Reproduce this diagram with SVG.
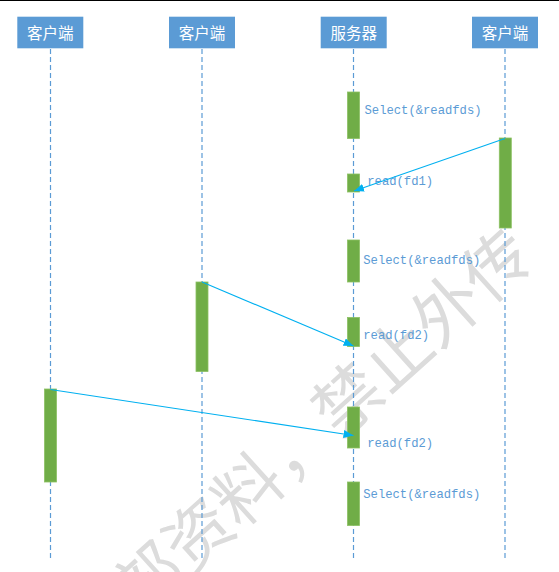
<svg xmlns="http://www.w3.org/2000/svg" width="559" height="572" viewBox="0 0 559 572">
<style>
.hdr{fill:#5b9bd5}
.hdrt{fill:#ffffff;font-family:"Noto Sans CJK SC","Noto Sans",sans-serif;font-size:15.5px;text-anchor:middle}
.life{stroke:#5b9bd5;stroke-width:1.2;stroke-dasharray:5 3;fill:none}
.bar{fill:#70ad47;stroke:#8cc063;stroke-width:0.8}
.lbl{fill:#5b9bd5;font-family:"Liberation Mono","DejaVu Sans Mono",monospace;font-size:12.2px}
.msg{stroke:#00b0f0;stroke-width:1.1;fill:none}
.wm{fill:#dcdcdc;font-family:"Noto Sans CJK SC",sans-serif;font-size:67px;text-anchor:middle}
</style>
<defs>
<marker id="ah" viewBox="0 0 10 8" refX="10" refY="4" markerWidth="10" markerHeight="8" markerUnits="userSpaceOnUse" orient="auto">
<path d="M0,0 L10,4 L0,8 Z" fill="#00b0f0"/>
</marker>
</defs>
<rect x="0" y="0" width="559" height="572" fill="#ffffff"/>
<line x1="0" y1="0.5" x2="559" y2="0.5" stroke="#000000" stroke-width="1"/>
<text class="wm" transform="translate(339,440) rotate(-42)">部资料，禁止外传</text>
<g id="client1">
<rect class="hdr" x="17.3" y="16.7" width="66" height="31.6"/>
<text class="hdrt" x="50.3" y="38.5">客户端</text>
<line class="life" x1="50.5" y1="49" x2="50.5" y2="558"/>
<rect class="bar" x="44.5" y="389" width="12" height="93"/>
</g>
<g id="client2">
<rect class="hdr" x="169" y="16.7" width="66" height="31.6"/>
<text class="hdrt" x="202" y="38.5">客户端</text>
<line class="life" x1="202" y1="49" x2="202" y2="558"/>
<rect class="bar" x="196" y="282" width="12" height="89.5"/>
</g>
<g id="server">
<rect class="hdr" x="320.7" y="16.7" width="66" height="31.6"/>
<text class="hdrt" x="353.7" y="38.5">服务器</text>
<line class="life" x1="353.5" y1="49" x2="353.5" y2="558"/>
<rect class="bar" x="347.5" y="92" width="12" height="46.5"/>
<rect class="bar" x="347.5" y="174" width="12" height="18"/>
<rect class="bar" x="347.5" y="240" width="12" height="42"/>
<rect class="bar" x="347.5" y="317.5" width="12" height="29"/>
<rect class="bar" x="347.5" y="407" width="12" height="41"/>
<rect class="bar" x="347.5" y="482" width="12" height="43.5"/>
<text class="lbl" x="364.5" y="114">Select(&amp;readfds)</text>
<text class="lbl" x="367.3" y="185">read(fd1)</text>
<text class="lbl" x="363.3" y="264">Select(&amp;readfds)</text>
<text class="lbl" x="363.3" y="339">read(fd2)</text>
<text class="lbl" x="367.3" y="446.5">read(fd2)</text>
<text class="lbl" x="363.3" y="498">Select(&amp;readfds)</text>
</g>
<g id="client4">
<rect class="hdr" x="472" y="16.7" width="66" height="31.6"/>
<text class="hdrt" x="505" y="38.5">客户端</text>
<line class="life" x1="505" y1="49" x2="505" y2="558"/>
<rect class="bar" x="499.3" y="138" width="12" height="90"/>
</g>
<g id="connectors">
<line class="msg" x1="505" y1="138.5" x2="354" y2="191" marker-end="url(#ah)"/>
<line class="msg" x1="202" y1="282" x2="353.5" y2="346" marker-end="url(#ah)"/>
<line class="msg" x1="50.5" y1="389.5" x2="353.5" y2="435.5" marker-end="url(#ah)"/>
</g>
</svg>
